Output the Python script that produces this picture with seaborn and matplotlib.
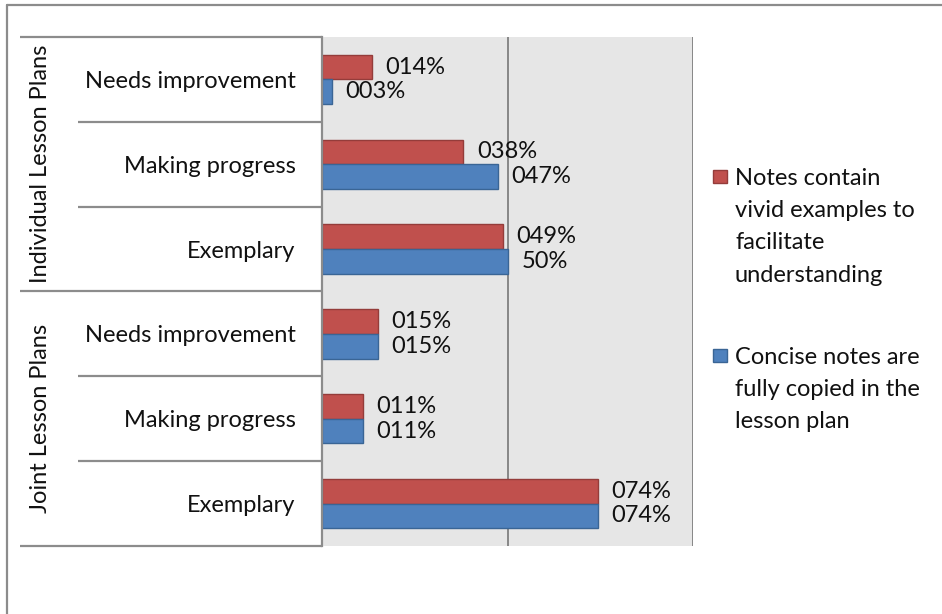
import pandas as pd
import matplotlib.pyplot as plt
import seaborn as sns
from matplotlib.lines import Line2D
from matplotlib.patches import Rectangle

# Chart data
groups = ["Individual Lesson Plans", "Joint Lesson Plans"]
levels = ["Needs improvement", "Making progress", "Exemplary"]
series = ["Notes contain vivid examples to facilitate understanding",
          "Concise notes are fully copied in the lesson plan"]
legend_text = ["Notes contain\nvivid examples to\nfacilitate\nunderstanding",
               "Concise notes are\nfully copied in the\nlesson plan"]
vivid_values = [0.134, 0.38, 0.487, 0.15, 0.11, 0.743]
concise_values = [0.026, 0.474, 0.50, 0.15, 0.11, 0.743]
vivid_labels = ["014%", "038%", "049%", "015%", "011%", "074%"]
concise_labels = ["003%", "047%", "50%", "015%", "011%", "074%"]

colors = ["#C0504D", "#4F81BD"]
edge_colors = ["#943C3A", "#3A6595"]
line_gray = "#8C8C8C"

# Build long table
rows = [f"{g} | {l}" for g in groups for l in levels]
df = pd.DataFrame({
    "row": rows * 2,
    "value": vivid_values + concise_values,
    "series": [series[0]] * 6 + [series[1]] * 6,
})

sns.set_style("white")
plt.rcParams["font.family"] = ["Lato", "DejaVu Sans"]
FS = 17

fig = plt.figure(figsize=(9.42, 6.14), dpi=100)
ax = fig.add_axes([322 / 942, 1 - 546 / 614, (693 - 322) / 942, (546 - 37) / 614])

sns.barplot(data=df, x="value", y="row", hue="series", hue_order=series,
            order=rows, palette=colors, saturation=1, width=0.58, orient="h",
            ax=ax, legend=False)

for cont, ec, labs in zip(ax.containers, edge_colors, [vivid_labels, concise_labels]):
    for bar in cont:
        bar.set_edgecolor(ec)
        bar.set_linewidth(1.0)
    ax.bar_label(cont, labels=labs, padding=10, fontsize=FS, color="#111111")

ax.set_facecolor("#E6E6E6")
ax.set_xlim(0, 1)
ax.set_ylim(len(rows) - 0.5, -0.5)
ax.set_xticks([0, 0.5, 1.0])
ax.grid(axis="x", color="#878787", linewidth=1.4)
ax.set_axisbelow(True)
ax.tick_params(axis="x", length=0, labelbottom=False)
ax.set_xlabel("")
ax.set_ylabel("")
for s in ["top", "right", "bottom"]:
    ax.spines[s].set_visible(False)
ax.spines["left"].set_color(line_gray)
ax.spines["left"].set_linewidth(1.6)

# Category labels on the left (table style)
ax.set_yticks(range(len(rows)), labels=levels * len(groups))
ax.tick_params(axis="y", length=0, pad=19, labelsize=FS, labelcolor="#111111")

ytr = ax.get_yaxis_transform()
n = len(levels)
for k in range(len(rows) + 1):
    yv = k - 0.5
    x0 = -0.814 if k % n == 0 else -0.658
    ax.plot([x0, 0], [yv, yv], transform=ytr, color=line_gray, lw=1.6,
            clip_on=False, solid_capstyle="butt")
for gi, g in enumerate(groups):
    ax.text(-0.758, gi * n + (n - 1) / 2, g, transform=ytr, rotation=90,
            ha="center", va="center", fontsize=FS, color="#111111")

# Legend drawn next to the plot
W, H = 942, 614
legend_tops = [170, 349]
for col, ec, txt, top in zip(colors, edge_colors, legend_text, legend_tops):
    fig.add_artist(Rectangle((713 / W, 1 - (top + 13) / H), 14 / W, 13 / H,
                             facecolor=col, edgecolor=ec, lw=1.0,
                             transform=fig.transFigure))
    fig.text(735 / W, 1 - (top - 2) / H, txt, ha="left", va="top",
             fontsize=FS, color="#111111", linespacing=1.66)

# Outer chart frame
fig.add_artist(Line2D([7 / W, 1], [1 - 5 / H, 1 - 5 / H], color=line_gray, lw=1.6,
                      transform=fig.transFigure))
fig.add_artist(Line2D([7 / W, 7 / W], [0, 1 - 5 / H], color=line_gray, lw=1.6,
                      transform=fig.transFigure))

fig.savefig("out.png", dpi=100)
